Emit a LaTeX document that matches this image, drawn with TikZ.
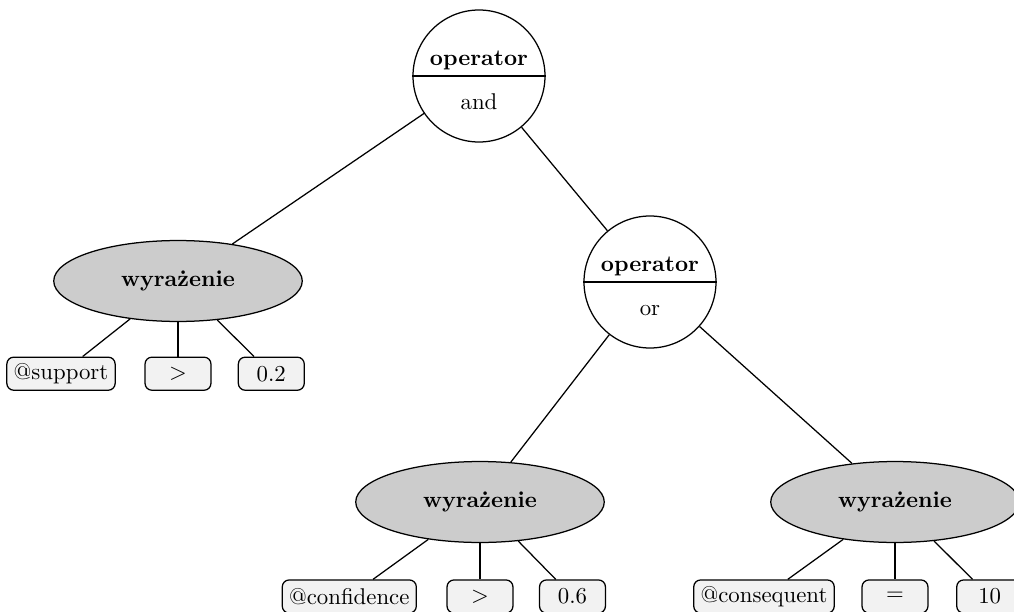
\documentclass[tikz,border=0pt]{standalone}
\usepackage{fontspec}
\usetikzlibrary{shapes.geometric}
\begin{document}
\begin{tikzpicture}[x=0.4386pt,y=-0.4386pt,
  edge/.style={line width=0.55pt},
  opnode/.style={circle,draw,line width=0.55pt,minimum size=57.9pt,inner sep=0pt,fill=white},
  optext/.style={anchor=base,inner sep=0pt},
  exprnode/.style={ellipse,draw,line width=0.55pt,fill=black!20,minimum width=109pt,minimum height=35.5pt,font=\bfseries},
  leafnode/.style={rectangle,rounded corners=3pt,draw,line width=0.55pt,fill=black!5,minimum width=28.9pt,minimum height=14.5pt,inner xsep=3pt,inner ysep=2pt}
]
\clip (0,0) rectangle (1014,612);
% operator nodes: circle split by a horizontal rule, name above, value below
\node[opnode] (op1) at (479,76) {};
\draw[edge] (op1.west) -- (op1.east);
\node[optext] (op1name) at (479,65.7) {\textbf{operator}};
\node[optext] (op1val) at (479,109) {and};
\node[opnode] (op2) at (650,282) {};
\draw[edge] (op2.west) -- (op2.east);
\node[optext] (op2name) at (650,271.7) {\textbf{operator}};
\node[optext] (op2val) at (650,315) {or};
% expressions
\node[exprnode] (e1) at (178,281) {wyrażenie};
\node[exprnode] (e2) at (480,502) {wyrażenie};
\node[exprnode] (e3) at (895,502) {wyrażenie};
% leaves
\node[leafnode] (l11) at (61,373.7) {@support};
\node[leafnode] (l12) at (178,373.7) {$>$};
\node[leafnode] (l13) at (271.3,373.7) {0.2};
\node[leafnode] (l21) at (349.3,596.5) {@confidence};
\node[leafnode] (l22) at (480,596.5) {$>$};
\node[leafnode] (l23) at (572.5,596.5) {0.6};
\node[leafnode] (l31) at (764,596.5) {@consequent};
\node[leafnode] (l32) at (895,596.5) {$=$};
\node[leafnode] (l33) at (989.7,596.5) {10};
% edges
\draw[edge] (op1) -- (e1);
\draw[edge] (op1) -- (op2);
\draw[edge] (op2) -- (e2);
\draw[edge] (op2) -- (e3);
\foreach \p/\c in {e1/l11,e1/l12,e1/l13,e2/l21,e2/l22,e2/l23,e3/l31,e3/l32,e3/l33}
  \draw[edge] (\p) -- (\c);
\end{tikzpicture}
\end{document}
